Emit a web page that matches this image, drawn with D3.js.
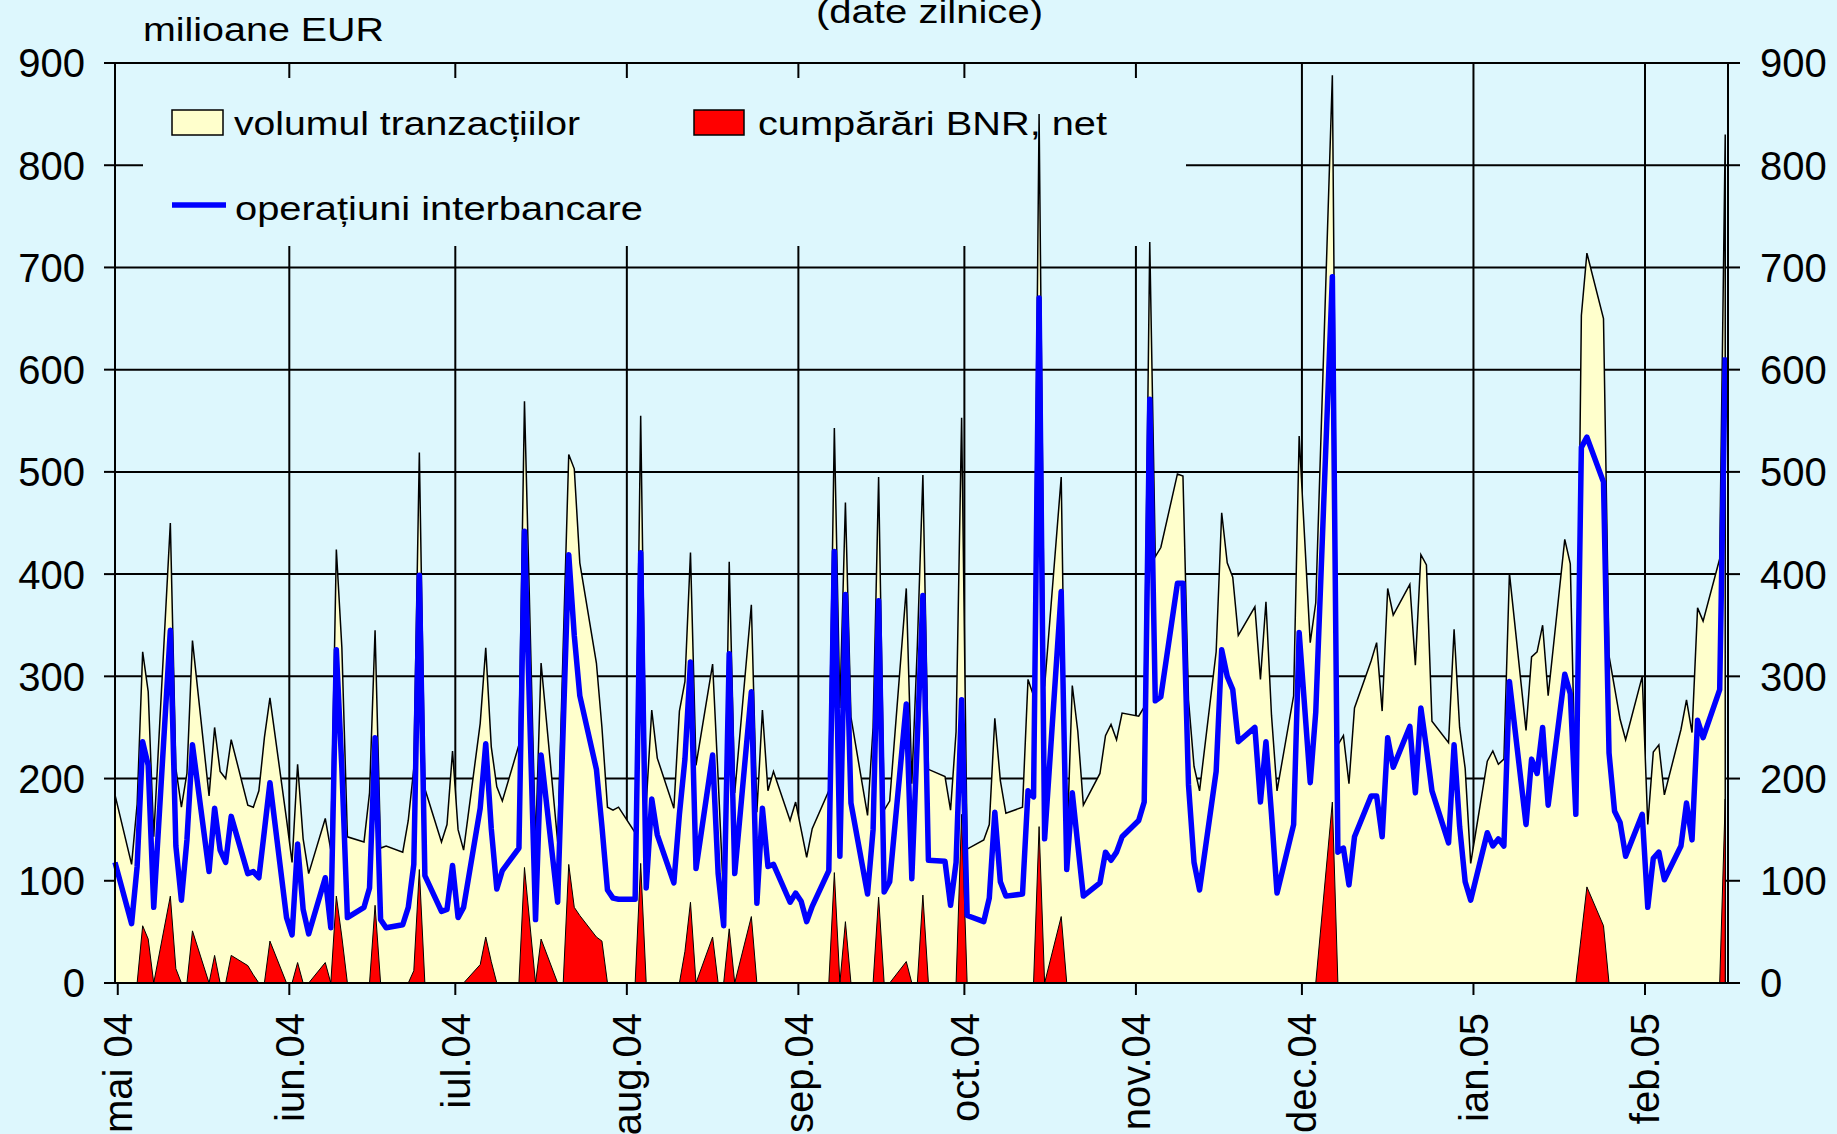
<!DOCTYPE html>
<html>
<head>
<meta charset="utf-8">
<script src="https://cdn.jsdelivr.net/npm/d3@7"></script>
<style>
  html, body { margin: 0; padding: 0; background: #ddf7fd; overflow: hidden; }
  svg { display: block; font-family: Arial, "Liberation Sans", sans-serif; }
</style>
</head>
<body>
<svg id="chart" width="1837" height="1134"></svg>
<script>
// zile lucratoare, mai 2004 - feb 2005 (o linie = o saptamana)
const dates = [
  "2004-04-30","2004-05-03","2004-05-04","2004-05-05","2004-05-06","2004-05-07",
  "2004-05-10","2004-05-11","2004-05-12","2004-05-13","2004-05-14",
  "2004-05-17","2004-05-18","2004-05-19","2004-05-20","2004-05-21",
  "2004-05-24","2004-05-25","2004-05-26","2004-05-27","2004-05-28",
  "2004-05-31","2004-06-01","2004-06-02","2004-06-03","2004-06-04",
  "2004-06-07","2004-06-08","2004-06-09","2004-06-10","2004-06-11",
  "2004-06-14","2004-06-15","2004-06-16","2004-06-17","2004-06-18",
  "2004-06-21","2004-06-22","2004-06-23","2004-06-24","2004-06-25",
  "2004-06-28","2004-06-29","2004-06-30","2004-07-01","2004-07-02",
  "2004-07-05","2004-07-06","2004-07-07","2004-07-08","2004-07-09",
  "2004-07-12","2004-07-13","2004-07-15","2004-07-16",
  "2004-07-19","2004-07-20","2004-07-21","2004-07-22","2004-07-23",
  "2004-07-26","2004-07-27","2004-07-28","2004-07-29","2004-07-30",
  "2004-08-02","2004-08-03","2004-08-04","2004-08-05","2004-08-06",
  "2004-08-09","2004-08-10","2004-08-11","2004-08-12","2004-08-13",
  "2004-08-16","2004-08-17","2004-08-18","2004-08-19","2004-08-20",
  "2004-08-23","2004-08-24","2004-08-25","2004-08-26","2004-08-27",
  "2004-08-30","2004-08-31","2004-09-01","2004-09-02","2004-09-03",
  "2004-09-06","2004-09-07","2004-09-08","2004-09-09","2004-09-10",
  "2004-09-13","2004-09-14","2004-09-15","2004-09-16","2004-09-17",
  "2004-09-20","2004-09-21","2004-09-22","2004-09-23","2004-09-24",
  "2004-09-27","2004-09-28","2004-09-29","2004-09-30","2004-10-01",
  "2004-10-04","2004-10-05","2004-10-06","2004-10-07","2004-10-08",
  "2004-10-11","2004-10-12","2004-10-13","2004-10-14","2004-10-15",
  "2004-10-18","2004-10-19","2004-10-20","2004-10-21","2004-10-22",
  "2004-10-25","2004-10-26","2004-10-27","2004-10-28","2004-10-29",
  "2004-11-01","2004-11-02","2004-11-03","2004-11-04","2004-11-05",
  "2004-11-08","2004-11-09","2004-11-10","2004-11-11","2004-11-12",
  "2004-11-15","2004-11-16","2004-11-17","2004-11-18","2004-11-19",
  "2004-11-22","2004-11-23","2004-11-24","2004-11-25","2004-11-26",
  "2004-11-29","2004-11-30","2004-12-02","2004-12-03",
  "2004-12-06","2004-12-07","2004-12-08","2004-12-09","2004-12-10",
  "2004-12-13","2004-12-14","2004-12-15","2004-12-16","2004-12-17",
  "2004-12-20","2004-12-21","2004-12-22","2004-12-23","2004-12-24",
  "2004-12-27","2004-12-28","2004-12-29","2004-12-30","2004-12-31",
  "2005-01-03","2005-01-04","2005-01-05","2005-01-06","2005-01-07",
  "2005-01-10","2005-01-11","2005-01-12","2005-01-13","2005-01-14",
  "2005-01-17","2005-01-18","2005-01-19","2005-01-20","2005-01-21",
  "2005-01-24","2005-01-25","2005-01-26","2005-01-27","2005-01-28",
  "2005-01-31","2005-02-01","2005-02-02","2005-02-03","2005-02-04",
  "2005-02-07","2005-02-08","2005-02-09","2005-02-10","2005-02-11",
  "2005-02-14","2005-02-15"
];

// volumul tranzactiilor, mil. EUR
const volum = [
  184,116,175,324,285,143,
  450,210,172,205,335,
  183,250,207,200,238,
  174,172,188,240,279,
  160,118,214,141,107,
  161,130,424,328,143,
  138,186,345,132,134,
  128,159,210,519,190,
  138,155,227,150,130,
  254,328,231,192,178,
  233,569,136,313,
  138,330,517,503,411,
  313,250,172,169,172,
  147,555,175,267,220,
  171,266,295,421,213,
  312,200,80,412,186,
  370,167,267,188,207,
  159,177,150,123,151,
  188,543,269,470,260,
  164,250,495,169,178,
  386,195,330,497,209,
  202,169,246,553,131,
  140,155,259,198,166,
  172,297,281,850,290,
  495,130,291,246,174,
  205,242,253,238,264,
  261,270,725,417,426,
  498,496,277,212,188,
  324,460,411,397,340,
  368,297,373,262,188,
  281,535,333,372,
  888,233,242,195,269,
  315,333,266,386,360,
  390,311,419,409,256,
  235,346,250,210,117,
  217,227,214,219,401,
  247,319,324,350,281,
  434,410,170,653,714,
  650,320,289,258,238,
  300,155,226,233,184,
  248,277,245,367,354,
  415,830
];

// operatiuni interbancare, mil. EUR
const interbancar = [
  118,58,114,236,213,74,
  345,134,81,140,233,
  109,171,130,118,163,
  107,109,103,149,196,
  64,47,136,72,48,
  103,54,326,210,64,
  74,93,240,62,54,
  57,74,116,399,105,
  70,72,115,64,74,
  171,234,151,92,110,
  132,442,62,223,
  79,250,419,340,281,
  209,153,91,83,82,
  82,421,93,180,145,
  98,165,219,314,112,
  223,107,56,322,107,
  285,78,171,114,116,
  79,88,80,60,75,
  110,422,124,380,176,
  87,150,374,89,99,
  273,102,240,379,120,
  119,76,118,277,66,
  60,83,167,99,85,
  87,188,182,670,141,
  383,111,186,135,85,
  98,128,120,128,143,
  159,177,571,276,280,
  391,391,194,118,91,
  207,326,300,287,236,
  250,177,236,165,88,
  155,343,196,265,
  691,128,132,96,143,
  183,183,143,240,211,
  251,186,269,230,188,
  137,233,153,99,81,
  147,134,141,134,295,
  155,219,205,250,174,
  302,283,165,524,534,
  490,225,168,157,124,
  165,74,122,128,101,
  134,176,140,257,240,
  287,612
];

// cumparari BNR, net, mil. EUR
const bnrNet = [
  0,0,0,56,43,0,
  85,14,0,0,51,
  0,27,0,0,27,
  17,8,0,0,41,
  0,0,20,0,0,
  20,0,85,45,0,
  0,0,76,0,0,
  0,0,12,111,0,
  0,0,0,0,0,
  18,45,21,0,0,
  0,113,0,43,
  0,0,116,74,66,
  45,41,0,0,0,
  0,117,0,0,0,
  0,0,31,79,0,
  45,0,0,53,0,
  65,0,0,0,0,
  0,0,0,0,0,
  0,108,0,60,0,
  0,0,84,0,0,
  21,0,0,86,0,
  0,0,0,165,0,
  0,0,0,0,0,
  0,0,0,153,0,
  65,0,0,0,0,
  0,0,0,0,0,
  0,0,0,0,0,
  0,0,0,0,0,
  0,0,0,0,0,
  0,0,0,0,0,
  0,0,0,0,
  177,0,0,0,0,
  0,0,0,0,0,
  0,0,0,0,0,
  0,0,0,0,0,
  0,0,0,0,0,
  0,0,0,0,0,
  0,0,0,47,94,
  56,0,0,0,0,
  0,0,0,0,0,
  0,0,0,0,0,
  0,180
];

const monthLabels = ["mai 04","iun.04","iul.04","aug.04","sep.04","oct.04","nov.04","dec.04","ian.05","feb.05"];
const yTicks = [0,100,200,300,400,500,600,700,800,900];

const bg = "#ddf7fd";
const svg = d3.select("#chart");

const plotLeft = 115, plotRight = 1728, plotTop = 63, plotBottom = 983;

const data = dates.map((d, i) => ({
  date: new Date(d + "T12:00:00Z"),
  vol: volum[i], ib: interbancar[i], bnr: bnrNet[i]
}));

const x = d3.scaleUtc()
  .domain([Date.UTC(2004, 3, 30, 12), Date.UTC(2005, 1, 16)])
  .range([plotLeft, plotRight]);
const y = d3.scaleLinear().domain([0, 900]).range([plotBottom, plotTop]);

const monthTicks = d3.utcMonth.range(new Date(Date.UTC(2004, 4, 1)), new Date(Date.UTC(2005, 1, 2)));

svg.append("rect").attr("width", 1837).attr("height", 1134).attr("fill", bg);

// gridlines
const grid = svg.append("g").attr("stroke", "#000").attr("stroke-width", 2);
grid.selectAll("line.h").data(yTicks.filter(d => d > 0)).enter().append("line")
    .attr("x1", plotLeft).attr("x2", plotRight)
    .attr("y1", d => y(d)).attr("y2", d => y(d));
grid.selectAll("line.v").data(monthTicks.slice(1)).enter().append("line")
    .attr("x1", d => x(d)).attr("x2", d => x(d))
    .attr("y1", plotTop).attr("y2", plotBottom);

// legend box hides the gridlines
svg.append("rect")
    .attr("x", 143).attr("y", 78).attr("width", 1043).attr("height", 168)
    .attr("fill", bg);

// volume area
svg.append("path")
    .datum(data)
    .attr("fill", "#ffffcc")
    .attr("stroke", "#000")
    .attr("stroke-width", 1.5)
    .attr("d", d3.area().x(d => x(d.date)).y0(y(0)).y1(d => y(d.vol)));

// BNR area
svg.append("path")
    .datum(data)
    .attr("fill", "#ff0000")
    .attr("stroke", "#000")
    .attr("stroke-width", 1)
    .attr("d", d3.area().x(d => x(d.date)).y0(y(0)).y1(d => y(d.bnr)));

// interbank line
svg.append("path")
    .datum(data)
    .attr("fill", "none")
    .attr("stroke", "#0000ff")
    .attr("stroke-width", 5.5)
    .attr("stroke-linejoin", "round")
    .attr("d", d3.line().x(d => x(d.date)).y(d => y(d.ib)));

// axes
const ax = svg.append("g").attr("stroke", "#000").attr("stroke-width", 2);
ax.append("line").attr("x1", plotLeft).attr("x2", plotLeft).attr("y1", plotTop).attr("y2", plotBottom);
ax.append("line").attr("x1", plotRight).attr("x2", plotRight).attr("y1", plotTop).attr("y2", plotBottom);
ax.append("line").attr("x1", plotLeft - 11).attr("x2", plotRight + 12).attr("y1", plotBottom).attr("y2", plotBottom);
ax.selectAll("line.tl").data(yTicks).enter().append("line")
    .attr("x1", plotLeft - 11).attr("x2", plotLeft).attr("y1", d => y(d)).attr("y2", d => y(d));
ax.selectAll("line.tr").data(yTicks).enter().append("line")
    .attr("x1", plotRight).attr("x2", plotRight + 12).attr("y1", d => y(d)).attr("y2", d => y(d));
ax.selectAll("line.tx").data(monthTicks).enter().append("line")
    .attr("x1", d => x(d)).attr("x2", d => x(d)).attr("y1", plotBottom).attr("y2", plotBottom + 12);

// tick labels
svg.selectAll("text.yl").data(yTicks).enter().append("text")
    .attr("x", 85).attr("y", d => y(d)).attr("dy", "0.36em")
    .attr("text-anchor", "end").attr("font-size", 40)
    .text(d => d);
svg.selectAll("text.yr").data(yTicks).enter().append("text")
    .attr("x", 1760).attr("y", d => y(d)).attr("dy", "0.36em")
    .attr("text-anchor", "start").attr("font-size", 40)
    .text(d => d);
svg.selectAll("text.xl").data(monthTicks).enter().append("text")
    .attr("transform", d => `translate(${x(d)},1013) rotate(-90)`)
    .attr("dy", "0.36em")
    .attr("text-anchor", "end").attr("font-size", 40)
    .text((d, i) => monthLabels[i]);

// titles (the reference cuts the title at the top edge)
svg.append("text").attr("x", 143).attr("y", 41).attr("font-size", 34)
    .attr("textLength", 241).attr("lengthAdjust", "spacingAndGlyphs")
    .text("milioane EUR");
svg.append("text").attr("x", 816).attr("y", 23).attr("font-size", 34)
    .attr("textLength", 227).attr("lengthAdjust", "spacingAndGlyphs")
    .text("(date zilnice)");

// legend
const lg = svg.append("g").attr("font-size", 34);
lg.append("rect").attr("x", 172).attr("y", 110).attr("width", 51).attr("height", 25)
    .attr("fill", "#ffffcc").attr("stroke", "#000").attr("stroke-width", 1.5);
lg.append("text").attr("x", 234).attr("y", 135)
    .attr("textLength", 346).attr("lengthAdjust", "spacingAndGlyphs")
    .text("volumul tranzacțiilor");
lg.append("rect").attr("x", 694).attr("y", 110).attr("width", 50).attr("height", 25)
    .attr("fill", "#ff0000").attr("stroke", "#000").attr("stroke-width", 1.5);
lg.append("text").attr("x", 758).attr("y", 135)
    .attr("textLength", 349).attr("lengthAdjust", "spacingAndGlyphs")
    .text("cumpărări BNR, net");
lg.append("line").attr("x1", 172).attr("x2", 226).attr("y1", 205).attr("y2", 205)
    .attr("stroke", "#0000ff").attr("stroke-width", 5.5);
lg.append("text").attr("x", 235).attr("y", 220)
    .attr("textLength", 408).attr("lengthAdjust", "spacingAndGlyphs")
    .text("operațiuni interbancare");
</script>
</body>
</html>
